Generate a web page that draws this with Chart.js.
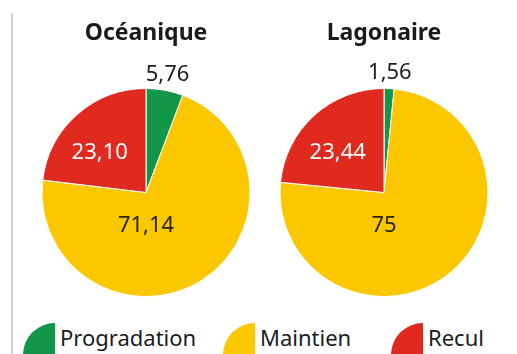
<!DOCTYPE html>
<html lang="fr">
<head>
<meta charset="utf-8">
<script src="https://cdn.jsdelivr.net/npm/chart.js@4/dist/chart.umd.min.js"></script>
<style>
  html, body { margin: 0; padding: 0; background: #fff; }
  #page { position: relative; width: 517px; height: 354px; overflow: hidden; background: #fff;
          font-family: "Noto Sans", "DejaVu Sans", sans-serif; }
  #rule { position: absolute; left: 11px; top: 13px; width: 1.5px; height: 345px; background: #d2d2d2; }
  canvas.pie { position: absolute; top: 0; }
  .key { position: absolute; top: 323px; width: 32px; height: 64px; border-radius: 32px 0 0 32px; }
  .keytext { position: absolute; top: 322px; font-size: 22px; line-height: 30px; color: #1c1c1c; white-space: nowrap; }
</style>
</head>
<body>
<div id="page">
  <div id="rule"></div>
  <canvas id="pieOcean" class="pie" width="252" height="300" style="left:20px"></canvas>
  <canvas id="pieLagon" class="pie" width="252" height="300" style="left:258px"></canvas>
  <div id="legend"></div>
</div>
<script>
// Shoreline evolution shares (%), by coast type
const categories = ['Progradation', 'Maintien', 'Recul'];
const colors = ['#12964a', '#fbc800', '#e12a1f'];
const oceanValues = [5.76, 71.14, 23.10];
const lagonValues = [1.56, 75, 23.44];
const titles = ['Océanique', 'Lagonaire'];

// Label formatting: French decimal comma, two decimals unless whole number
function fmt(v) {
  return Number.isInteger(v) ? String(v) : v.toFixed(2).replace('.', ',');
}

// Value labels drawn from each arc's geometry
const sliceLabels = {
  id: 'sliceLabels',
  afterDatasetsDraw(chart, args, opts) {
    const ctx = chart.ctx;
    const meta = chart.getDatasetMeta(0);
    const values = chart.data.datasets[0].data;
    ctx.save();
    ctx.font = '22px "Noto Sans", sans-serif';
    ctx.textAlign = 'center';
    ctx.textBaseline = 'middle';
    meta.data.forEach((arc, i) => {
      const p = arc.getProps(['x', 'y', 'startAngle', 'endAngle', 'outerRadius'], true);
      const place = opts.placement[i];
      let ang, dist;
      if (place.outside) {
        ang = (p.startAngle + p.endAngle) / 2;
        dist = p.outerRadius + place.gap;
      } else {
        ang = (place.angle - 90) * Math.PI / 180;
        dist = p.outerRadius * place.dist;
      }
      ctx.fillStyle = place.color;
      ctx.fillText(fmt(values[i]), p.x + Math.cos(ang) * dist, p.y + Math.sin(ang) * dist);
    });
    ctx.restore();
  }
};

function makePie(id, title, values) {
  return new Chart(document.getElementById(id), {
    type: 'pie',
    data: {
      labels: categories,
      datasets: [{
        data: values,
        backgroundColor: colors,
        borderColor: '#ffffff',
        borderWidth: 1
      }]
    },
    options: {
      responsive: false,
      devicePixelRatio: 1,
      animation: false,
      layout: { padding: { top: 0, bottom: 3, left: 0, right: 0 } },
      plugins: {
        legend: { display: false },
        tooltip: { enabled: false },
        title: {
          display: true,
          text: title,
          color: '#1a1a1a',
          font: { family: '"Noto Sans", sans-serif', size: 23, weight: 'bold', lineHeight: 1.2 },
          padding: { top: 20, bottom: 40.4 }
        },
        sliceLabels: {
          placement: [
            { outside: true, gap: 16, color: '#1e1e1e' },
            { angle: 180, dist: 0.32, color: '#2a2410' },
            { angle: -49, dist: 0.59, color: '#ffffff' }
          ]
        }
      }
    },
    plugins: [sliceLabels]
  });
}

makePie('pieOcean', titles[0], oceanValues);
makePie('pieLagon', titles[1], lagonValues);

// Legend: half-disc swatches with category names
const keyLeft = [23, 223, 391];
const legend = document.getElementById('legend');
categories.forEach((name, i) => {
  const sw = document.createElement('div');
  sw.className = 'key';
  sw.style.left = keyLeft[i] + 'px';
  sw.style.background = colors[i];
  legend.appendChild(sw);
  const tx = document.createElement('div');
  tx.className = 'keytext';
  tx.style.left = (keyLeft[i] + 37) + 'px';
  tx.textContent = name;
  legend.appendChild(tx);
});
</script>
</body>
</html>
